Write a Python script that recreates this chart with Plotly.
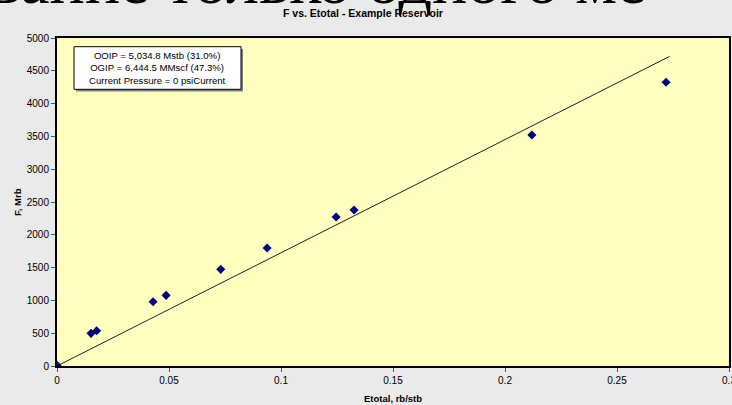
import plotly.graph_objects as go

# Data
etotal = [0.0, 0.0152, 0.0177, 0.0429, 0.0487, 0.0731, 0.0938, 0.1246, 0.1326, 0.2120, 0.2719]
f_mrb = [10, 498, 538, 980, 1077, 1473, 1799, 2271, 2378, 3521, 4325]
fit_x = [0.0, 0.2735]
fit_y = [0.0, 4720]

x_ticks = [0, 0.05, 0.1, 0.15, 0.2, 0.25, 0.3]
x_tick_labels = ["0", "0.05", "0.1", "0.15", "0.2", "0.25", "0.3"]
y_ticks = [0, 500, 1000, 1500, 2000, 2500, 3000, 3500, 4000, 4500, 5000]

title_text = "F vs. Etotal - Example Reservoir"
x_title = "Etotal, rb/stb"
y_title = "F, Mrb"
info_lines = ["OOIP = 5,034.8 Mstb (31.0%)", "OGIP = 6,444.5 MMscf (47.3%)", "Current Pressure = 0 psiCurrent"]
slide_text = "вание только одного ме"

W, H = 732, 405
L, R, T, B = 57, 3, 38, 39
pw, ph = W - L - R, H - T - B


def px(xp):
    return (xp - L) / pw


def py(yp):
    return (H - B - yp) / ph


fig = go.Figure()
fig.add_trace(go.Scatter(x=fit_x, y=fit_y, mode="lines",
                         line=dict(color="#202020", width=1), hoverinfo="skip"))
fig.add_trace(go.Scatter(x=etotal, y=f_mrb, mode="markers",
                         marker=dict(symbol="diamond", size=7, color="#000080")))

font_sans = "Liberation Sans, Arial, sans-serif"

fig.update_layout(
    width=W, height=H,
    margin=dict(l=L, r=R, t=T, b=B, autoexpand=False),
    paper_bgcolor="#eaeaea",
    plot_bgcolor="#ffffc0",
    showlegend=False,
    font=dict(family=font_sans, size=10, color="black"),
)
fig.update_xaxes(range=[0, 0.3], tickvals=x_ticks, ticktext=x_tick_labels,
                 showgrid=False, zeroline=False, showline=True, linecolor="black",
                 linewidth=2, mirror=True, ticks="outside", ticklen=4, tickcolor="#555",
                 tickfont=dict(size=10), title=None, ticklabeloverflow="allow",
                 automargin=False)
fig.update_yaxes(range=[0, 5000], tickvals=y_ticks,
                 showgrid=False, zeroline=False, showline=True, linecolor="black",
                 linewidth=2, mirror=True, ticks="outside", ticklen=4, tickcolor="#555",
                 tickfont=dict(size=10), title=None, automargin=False)

# info box shadow + box
fig.add_shape(type="rect", xref="paper", yref="paper",
              x0=px(76), x1=px(243), y0=py(91.5), y1=py(49),
              fillcolor="#808080", line=dict(width=0), layer="above")
fig.add_shape(type="rect", xref="paper", yref="paper",
              x0=px(74), x1=px(241), y0=py(89.3), y1=py(46.7),
              fillcolor="white", line=dict(color="black", width=1), layer="above")
fig.add_annotation(xref="paper", yref="paper", x=px(157.5), y=py(67.5),
                   text="<br>".join(info_lines), showarrow=False,
                   font=dict(size=9.6, family=font_sans), align="center",
                   xanchor="center", yanchor="middle")

# titles
fig.add_annotation(xref="paper", yref="paper", x=px(363), y=py(13),
                   text="<b>" + title_text + "</b>", showarrow=False,
                   font=dict(size=10.5, family=font_sans), xanchor="center", yanchor="middle")
fig.add_annotation(xref="paper", yref="paper", x=px(393), y=py(398),
                   text="<b>" + x_title + "</b>", showarrow=False,
                   font=dict(size=9.5, family=font_sans), xanchor="center", yanchor="middle")
fig.add_annotation(xref="paper", yref="paper", x=px(17), y=py(202),
                   text="<b>" + y_title + "</b>", showarrow=False, textangle=-90,
                   font=dict(size=9.5, family=font_sans), xanchor="center", yanchor="middle")

# large slide heading cut off at top
fig.add_annotation(xref="paper", yref="paper", x=px(-12), y=py(-19),
                   text=slide_text, showarrow=False,
                   font=dict(size=66, family="Liberation Serif, serif", color="black"),
                   xanchor="left", yanchor="middle")

fig.write_html("out.html", config={"displayModeBar": False},
               post_script="document.body.style.margin='0px';document.body.style.overflow='hidden';")
